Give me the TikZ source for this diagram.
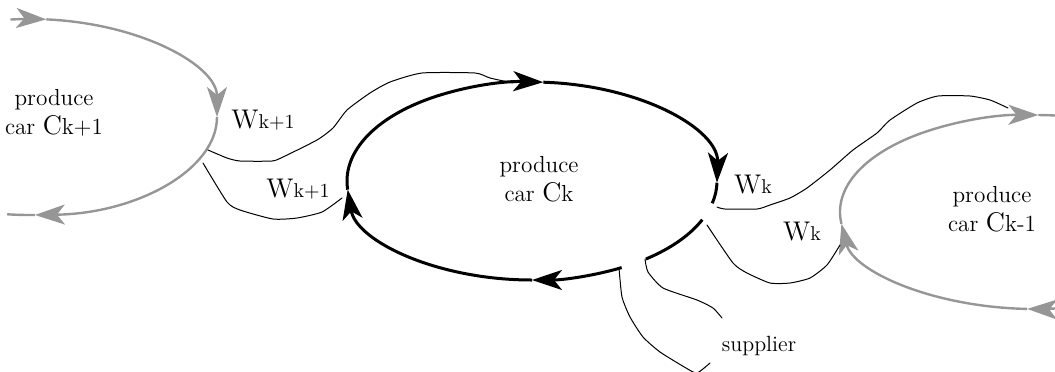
\documentclass[tikz,border=0pt]{standalone}
\usetikzlibrary{arrows.meta}

\definecolor{loopgray}{RGB}{150,150,150}

% capital letters of the labels are set a little larger than the rest
\newcommand\capletter[1]{{\fontsize{13.5}{13.5}\selectfont #1}}

% one arc of a loop: style, centre x, centre y, x radius, y radius, start, end
\newcommand\loopseg[7]{%
  \draw[#1] ({#2+#4*cos(#6)},{#3+#5*sin(#6)})
    arc[start angle=#6,end angle=#7,x radius=#4,y radius=#5];}

\tikzset{
  mainloop/.style={line width=1.5pt, black},
  sideloop/.style={line width=1.2pt, loopgray},
  flowtip/.style={-{Stealth[length=15pt,width=10pt,inset=4pt]}},
  wire/.style={line width=0.5pt, black, line join=round, line cap=round},
  looptext/.style={align=center, inner sep=0pt,
    font=\fontsize{11.6}{14.5}\selectfont},
  wlabel/.style={anchor=base, inner sep=0pt,
    font=\fontsize{10}{12}\selectfont},
}

\begin{document}
\begin{tikzpicture}[x=0.5pt,y=-0.5pt]
  \clip (0,0) rectangle (1055,371);

  % ---- loop k+1 (left, grey) ----
  \loopseg{sideloop,flowtip}{30}{117}{187}{98}{-96}{-85}
  \loopseg{sideloop,flowtip}{30}{117}{187}{98}{-85}{0}
  \loopseg{sideloop,flowtip}{30}{117}{187}{98}{0}{88.5}
  \loopseg{sideloop}{30}{117}{187}{98}{88.5}{97}
  \node[looptext] (ckp1) at (54,113) {produce\\car \capletter{C}k+1};

  % ---- loop k (centre, black) ----
  \loopseg{mainloop,flowtip}{532}{181}{185}{99}{61}{90}
  \loopseg{mainloop,flowtip}{532}{181}{185}{99}{90}{175}
  \loopseg{mainloop,flowtip}{532}{181}{185}{99}{175}{273.5}
  \loopseg{mainloop,flowtip}{532}{181}{185}{99}{273.5}{361}
  \loopseg{mainloop}{532}{181}{185}{99}{361}{373}
  \loopseg{mainloop}{532}{181}{185}{99}{23}{52}
  \node[looptext] (ck) at (539,179) {produce\\car \capletter{C}k};

  % ---- loop k-1 (right, grey) ----
  \loopseg{sideloop,flowtip}{1035}{212}{195}{97}{83}{92.3}
  \loopseg{sideloop,flowtip}{1035}{212}{195}{97}{92.3}{173}
  \loopseg{sideloop,flowtip}{1035}{212}{195}{97}{173}{271}
  \loopseg{sideloop}{1035}{212}{195}{97}{271}{280}
  \node[looptext] (ckm1) at (992,209) {produce\\car \capletter{C}k-1};

  % ---- end points of the hand-offs ----
  \coordinate (kpA) at (208,150);
  \coordinate (kpB) at (203,163);
  \coordinate (ckTop) at (513,83);
  \coordinate (ckLeft) at (342,198);
  \coordinate (ckRa) at (717,207);
  \coordinate (ckRb) at (707,225);
  \coordinate (ckBa) at (619,268);
  \coordinate (ckBb) at (645,259);
  \coordinate (kmTop) at (1008,108);
  \coordinate (kmLeft) at (840,245);
  \coordinate (supA) at (710,363);
  \coordinate (supB) at (722,318);

  % W(k+1): loop k+1 <-> loop k
  \draw[wire] plot[smooth,tension=0.35] coordinates {(kpA) (227,158) (240,161)
    (272,161) (283,157) (317,140) (333,128) (347,110) (370,93) (390,82)
    (422,73) (475,73) (490,78) (ckTop)};
  \draw[wire] plot[smooth,tension=0.35] coordinates {(kpB) (227,202) (240,210)
    (273,219) (297,218) (322,212) (ckLeft)};
  \node[wlabel] (wkp1a) at (263,128) {\capletter{W}k+1};
  \node[wlabel] (wkp1b) at (298,197) {\capletter{W}k+1};

  % W(k): loop k <-> loop k-1
  \draw[wire] plot[smooth,tension=0.35] coordinates {(ckRa) (725,209) (757,209)
    (770,205) (790,198) (807,188) (830,170) (853,150) (877,133) (890,120)
    (917,103) (938,96) (970,96) (990,100) (kmTop)};
  \draw[wire] plot[smooth,tension=0.35] coordinates {(ckRb) (733,263) (747,273)
    (770,283) (790,283) (810,278) (827,265) (kmLeft)};
  \node[wlabel] (wka) at (753,193) {\capletter{W}k};
  \node[wlabel] (wkb) at (802,240) {\capletter{W}k};

  % supplier hand-off
  \draw[wire] plot[smooth,tension=0.35] coordinates {(ckBa) (622,297) (630,317)
    (643,337) (660,352) (686,368) (697,373) (supA)};
  \draw[wire] plot[smooth,tension=0.35] coordinates {(ckBb) (648,272) (663,288)
    (697,300) (713,308) (supB)};
  \node[anchor=base, inner sep=0pt, font=\fontsize{11}{13}\selectfont]
    (sup) at (759,351) {supplier};
\end{tikzpicture}
\end{document}
